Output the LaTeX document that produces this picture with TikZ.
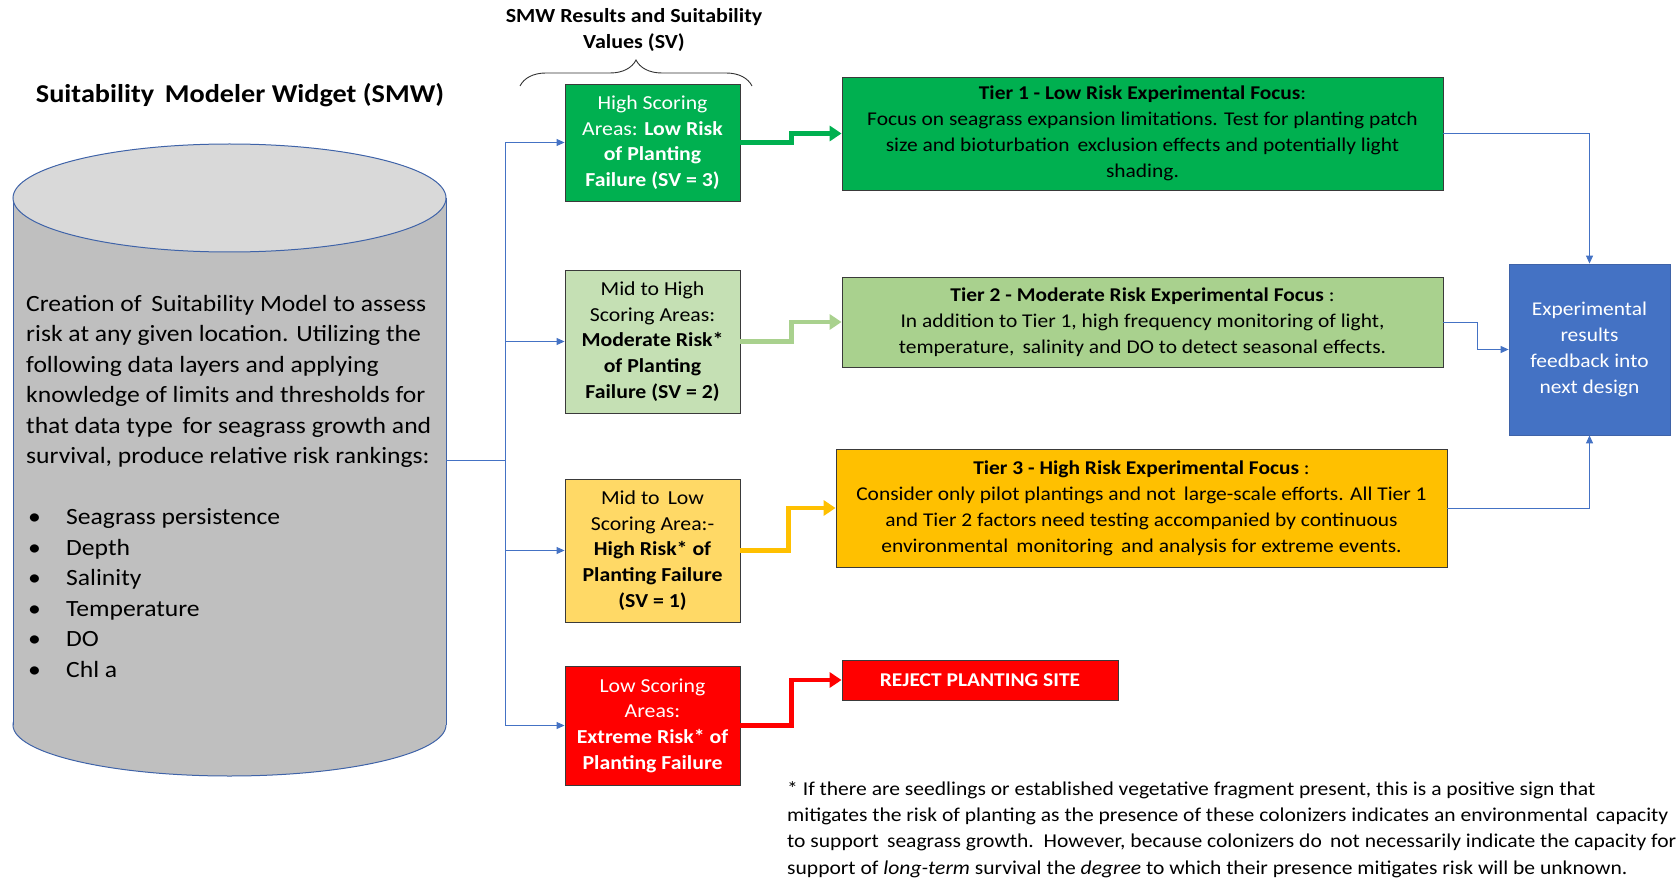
\documentclass[tikz,border=0pt]{standalone}
\usepackage{fontspec}
\setmainfont[FakeStretch=1.1]{Carlito}
\usetikzlibrary{arrows.meta,decorations.pathreplacing,calc}
\definecolor{cgreen}{HTML}{00B050}
\definecolor{clgreen}{HTML}{C5E0B4}
\definecolor{ctiertwo}{HTML}{A9D18E}
\definecolor{cyel}{HTML}{FFD966}
\definecolor{corange}{HTML}{FFC000}
\definecolor{cred}{HTML}{FF0000}
\definecolor{cblue}{HTML}{4472C4}
\definecolor{cylgrey}{HTML}{BFBFBF}
\definecolor{cyltop}{HTML}{D9D9D9}
\definecolor{cylline}{HTML}{3F63A8}
\definecolor{boxline}{HTML}{3A3A3A}
\newcommand\fBox{\fontsize{19.8}{25.7}\selectfont}
\newcommand\fTier{\fontsize{19.5}{26}\selectfont}
\newcommand\fCyl{\fontsize{23.3}{30.5}\selectfont}
\newcommand\fNote{\fontsize{19.6}{26.4}\selectfont}
\tikzset{
  leftbox/.style={draw=boxline, line width=0.9pt, minimum width=175pt, align=center, inner sep=2pt, font=\fBox},
  tierbox/.style={draw=boxline, line width=0.8pt, align=center, inner sep=2pt, font=\fTier},
  thinarrow/.style={draw=cblue, line width=1pt, -{Triangle[length=8pt,width=7pt]}},
  thinline/.style={draw=cblue, line width=1pt},
  thickarrow/.style={line width=4.5pt, -{Triangle[length=12pt,width=15pt]}},
}
\begin{document}
\begin{tikzpicture}[x=1pt,y=-1pt]
\useasboundingbox (0,0) rectangle (1677,882);

% title
\node[font=\fontsize{25.7}{30}\selectfont\bfseries] (title) at (240,95) {Suitability\, Modeler Widget (SMW)};

% cylinder
\draw[cylline, line width=1pt, fill=cylgrey] (229.5,725) ellipse [x radius=216.5, y radius=51];
\fill[cylgrey] (13,198) rectangle (446,725);
\draw[cylline, line width=1pt] (13,198) -- (13,725) (446,198) -- (446,725);
\draw[cylline, line width=1pt, fill=cyltop] (229.5,198) ellipse [x radius=216.5, y radius=54];
\coordinate (cylR) at (446,460);

\node[anchor=north west, inner sep=0pt, align=left, font=\fCyl] (cyltext) at (26,295)
 {Creation of\, Suitability Model to assess\\
  risk at any given location. Utilizing the\\
  following data layers and applying\\
  knowledge of limits and thresholds for\\
  that data type\, for seagrass growth and\\
  survival, produce relative risk rankings:\\[30.5pt]
  \makebox[40pt][l]{\hspace{2pt}•}Seagrass persistence\\
  \makebox[40pt][l]{\hspace{2pt}•}Depth\\
  \makebox[40pt][l]{\hspace{2pt}•}Salinity\\
  \makebox[40pt][l]{\hspace{2pt}•}Temperature\\
  \makebox[40pt][l]{\hspace{2pt}•}DO\\
  \makebox[40pt][l]{\hspace{2pt}•}Chl a};

% header and brace
\node[font=\fontsize{20}{25.7}\selectfont\bfseries, align=center] (hdr) at (634,30)
 {SMW Results and Suitability\\Values (SV)};
\draw[line width=0.9pt, draw=black!80, decorate, decoration={brace, amplitude=26pt}] (520,86) -- (752,86);

% left boxes
\node[leftbox, fill=cgreen, text=white, minimum height=117pt] (b1) at (652.5,142.5)
 {High Scoring\\Areas: \textbf{Low Risk}\\\textbf{of Planting}\\\textbf{Failure (SV = 3)}};
\node[leftbox, fill=clgreen, minimum height=143pt] (b2) at (652.5,341.5)
 {Mid to High\\Scoring Areas:\\\textbf{Moderate Risk*}\\\textbf{of Planting}\\\textbf{Failure (SV = 2)}};
\node[leftbox, fill=cyel, minimum height=143pt] (b3) at (652.5,550.5)
 {Mid to\, Low\\Scoring Area:-\\\textbf{High Risk* of}\\\textbf{Planting Failure}\\\textbf{(SV = 1)}};
\node[leftbox, fill=cred, text=white, minimum height=119pt] (b4) at (652.5,725.5)
 {Low Scoring\\Areas:\\\textbf{Extreme Risk* of}\\\textbf{Planting Failure}};

% tier boxes
\node[tierbox, fill=cgreen, minimum width=601pt, minimum height=113pt] (t1) at (1142.5,133.5)
 {\textbf{Tier 1 - Low Risk Experimental Focus}:\\
  Focus on seagrass expansion limitations. Test for planting patch\\
  size and bioturbation\, exclusion effects and potentially light\\
  shading.};
\node[tierbox, fill=ctiertwo, minimum width=601pt, minimum height=90pt] (t2) at (1142.5,322)
 {\textbf{Tier 2 - Moderate Risk Experimental Focus} :\\
  In addition to Tier 1, high frequency monitoring of light,\\
  temperature,\, salinity and DO to detect seasonal effects.};
\node[tierbox, fill=corange, minimum width=611pt, minimum height=118pt] (t3) at (1141.5,508)
 {\textbf{Tier 3 - High Risk Experimental Focus} :\\
  Consider only pilot plantings and not\, large-scale efforts. All Tier 1\\
  and Tier 2 factors need testing accompanied by continuous\\
  environmental\, monitoring\, and analysis for extreme events.};
\node[tierbox, fill=cred, text=white, minimum width=276pt, minimum height=40pt] (rej) at (980,680)
 {\textbf{REJECT PLANTING SITE}};
\node[tierbox, draw=cylline, fill=cblue, text=white, minimum width=161pt, minimum height=171pt] (fb) at (1589.5,349.5)
 {Experimental\\results\\feedback into\\next design};

% thin blue connectors
\coordinate (trunk) at (505,460);
\draw[thinline] (cylR) -- (trunk);
\draw[thinarrow] (trunk) |- (b1.west);
\draw[thinarrow] (trunk) |- (b2.west);
\draw[thinarrow] (trunk) |- (b3.west);
\draw[thinarrow] (trunk) |- (b4.west);

% thick coloured connectors
\draw[thickarrow, cgreen] (b1.east) -- ++(51,0) |- (t1.west);
\draw[thickarrow, ctiertwo] (b2.east) -- ++(51,0) |- (t2.west);
\draw[thickarrow, corange] (b3.east) -- ++(48,0) |- (t3.west);
\draw[thickarrow, cred] (b4.east) -- ++(51,0) |- (rej.west);

% feedback connectors
\draw[thinarrow] (t1.east) -| (fb.north);
\draw[thinarrow] (t2.east) -- ++(34,0) |- (fb.west);
\draw[thinarrow] (t3.east) -| (fb.south);

% footnote
\node[anchor=north west, inner sep=0pt, align=left, font=\fNote] (note) at (787,781)
 {* If there are seedlings or established vegetative fragment present, this is a positive sign that\\
  mitigates the risk of planting as the presence of these colonizers indicates an environmental\, capacity\\
  to support\, seagrass growth.\, However, because colonizers do\, not necessarily indicate the capacity for\\
  support of \textit{long-term} survival the \textit{degree} to which their presence mitigates risk will be unknown.};
\end{tikzpicture}
\end{document}
